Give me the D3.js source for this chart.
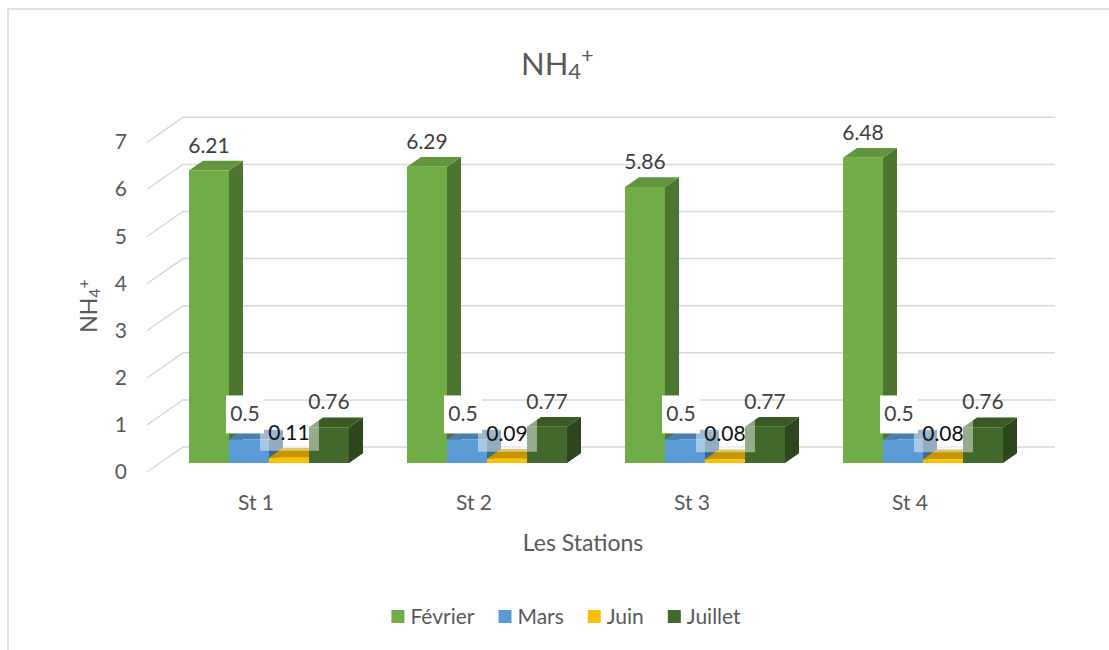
<!DOCTYPE html>
<html>
<head>
<meta charset="utf-8">
<script src="https://cdn.jsdelivr.net/npm/d3@7"></script>
<style>
  body { margin: 0; background: #fff; }
  svg { display: block; font-family: Lato, "Liberation Sans", sans-serif; }
</style>
</head>
<body>
<div id="chart"></div>
<script>
// data
var stations = ["St 1", "St 2", "St 3", "St 4"];
var months = ["Février", "Mars", "Juin", "Juillet"];
var fevrier = [6.21, 6.29, 5.86, 6.48];
var mars = [0.5, 0.5, 0.5, 0.5];
var juin = [0.11, 0.09, 0.08, 0.08];
var juillet = [0.76, 0.77, 0.77, 0.76];
var yTicks = [0, 1, 2, 3, 4, 5, 6, 7];

var series = [fevrier, mars, juin, juillet];
var clr = ["#70AD47", "#5B9BD5", "#FFC000", "#43682B"];

var width = 1109, height = 650;

var svg = d3.select("#chart").append("svg")
  .attr("width", width)
  .attr("height", height);

// chart frame
svg.append("rect")
  .attr("x", 8).attr("y", 9)
  .attr("width", 1200).attr("height", 700)
  .attr("fill", "none")
  .attr("stroke", "#D9D9D9")
  .attr("stroke-width", 1.5);

// oblique depth: full depth vector, bar sits between d0 and d1
var DX = 36, DY = -25, d0 = 0.36, d1 = 0.75;

var x0 = d3.scaleBand().domain(stations).range([147, 1019])
  .paddingInner(0.266).paddingOuter(0.133);
var x1 = d3.scaleBand().domain(months).range([0, x0.bandwidth()]);
var y = d3.scaleLinear().domain([0, 7]).range([472, 472 - 7 * 47.1]);

function pt(x, v, d) {
  return [x + d * DX, y(v) + d * DY];
}
function poly(pts) {
  return pts.map(function(p) { return p[0].toFixed(1) + "," + p[1].toFixed(1); }).join(" ");
}

// gridlines: left wall diagonals + back wall
var grid = svg.append("g");
yTicks.forEach(function(t) {
  var a = pt(147, t, 0), b = pt(147, t, 1), c = pt(1019, t, 1);
  grid.append("polyline")
    .attr("points", poly([a, b, c]))
    .attr("fill", "none")
    .attr("stroke", "#D9D9D9")
    .attr("stroke-width", 1.5);
});

// tick labels
svg.append("g").selectAll("text")
  .data(yTicks)
  .enter().append("text")
  .attr("x", 127)
  .attr("y", function(d) { return y(d) + 7; })
  .attr("text-anchor", "end")
  .style("font-size", "21px")
  .style("fill", "#595959")
  .text(function(d) { return d; });

// bars, left to right so each front hides the previous side
var topShade = [0.4, 0.55, 0.7, 0.45];
var bars = svg.append("g");
stations.forEach(function(st, i) {
  months.forEach(function(m, j) {
    var v = series[j][i];
    var xa = x0(st) + x1(m), xb = xa + x1.bandwidth();
    var base = d3.color(clr[j]);
    bars.append("polygon")
      .attr("points", poly([pt(xb, 0, d0), pt(xb, v, d0), pt(xb, v, d1), pt(xb, 0, d1)]))
      .attr("fill", base.darker(1.1));
    bars.append("polygon")
      .attr("points", poly([pt(xa, v, d0), pt(xb, v, d0), pt(xb, v, d1), pt(xa, v, d1)]))
      .attr("fill", base.darker(topShade[j]));
    bars.append("polygon")
      .attr("points", poly([pt(xa, 0, d0), pt(xb, 0, d0), pt(xb, v, d0), pt(xa, v, d0)]))
      .attr("fill", base);
  });
});

// data labels
var labels = svg.append("g");
stations.forEach(function(st, i) {
  months.forEach(function(m, j) {
    var v = series[j][i];
    var p = pt(x0(st) + x1(m) + x1.bandwidth() / 2, v, d0);
    var cx = p[0], cy = p[1] - 25;
    if (m === "Mars") {
      labels.append("rect")
        .attr("x", cx - 23).attr("y", cy - 19)
        .attr("width", 38).attr("height", 38)
        .attr("fill", "#fff");
    }
    if (m === "Juin") {
      labels.append("rect")
        .attr("x", cx - 29).attr("y", cy - 18)
        .attr("width", 59).attr("height", 36)
        .attr("fill", "#fff")
        .attr("fill-opacity", 0.45);
    }
    labels.append("text")
      .attr("x", m === "Mars" ? cx - 4 : cx)
      .attr("y", cy + 7)
      .attr("text-anchor", "middle")
      .style("font-size", "21px")
      .style("fill", m === "Juin" ? "#111" : "#404040")
      .text(v);
  });
});

// category labels
svg.append("g").selectAll("text")
  .data(stations)
  .enter().append("text")
  .attr("x", function(d) { return x0(d) + x0.bandwidth() / 2; })
  .attr("y", 510)
  .attr("text-anchor", "middle")
  .style("font-size", "21px")
  .style("fill", "#595959")
  .text(String);

// axis titles
svg.append("text")
  .attr("x", 583).attr("y", 551)
  .attr("text-anchor", "middle")
  .style("font-size", "23px")
  .style("fill", "#595959")
  .text("Les Stations");

var yt = svg.append("text")
  .attr("transform", "translate(97,306) rotate(-90)")
  .attr("text-anchor", "middle")
  .style("font-size", "23px")
  .style("fill", "#595959");
yt.append("tspan").text("NH");
yt.append("tspan").attr("dy", 3).style("font-size", "16px").text("4");
yt.append("tspan").attr("dy", -11).style("font-size", "16px").text("+");

// title
var title = svg.append("text")
  .attr("x", 521).attr("y", 75)
  .style("font-size", "31px")
  .style("fill", "#595959");
title.append("tspan").text("NH");
title.append("tspan").attr("dy", 4).style("font-size", "22px").text("4");
title.append("tspan").attr("dy", -16).style("font-size", "22px").text("+");

// legend
var legend = svg.append("g");
var lx = 0;
months.forEach(function(m, j) {
  var g = legend.append("g").attr("transform", "translate(" + lx + ",0)");
  g.append("rect")
    .attr("x", 0).attr("y", 610)
    .attr("width", 13).attr("height", 13)
    .attr("fill", clr[j]);
  var t = g.append("text")
    .attr("x", 19).attr("y", 624)
    .style("font-size", "21px")
    .style("fill", "#595959")
    .text(m);
  lx += 19 + t.node().getComputedTextLength() + 24;
});
var lw = lx - 24;
legend.attr("transform", "translate(" + (566 - lw / 2) + ",0)");
</script>
</body>
</html>
